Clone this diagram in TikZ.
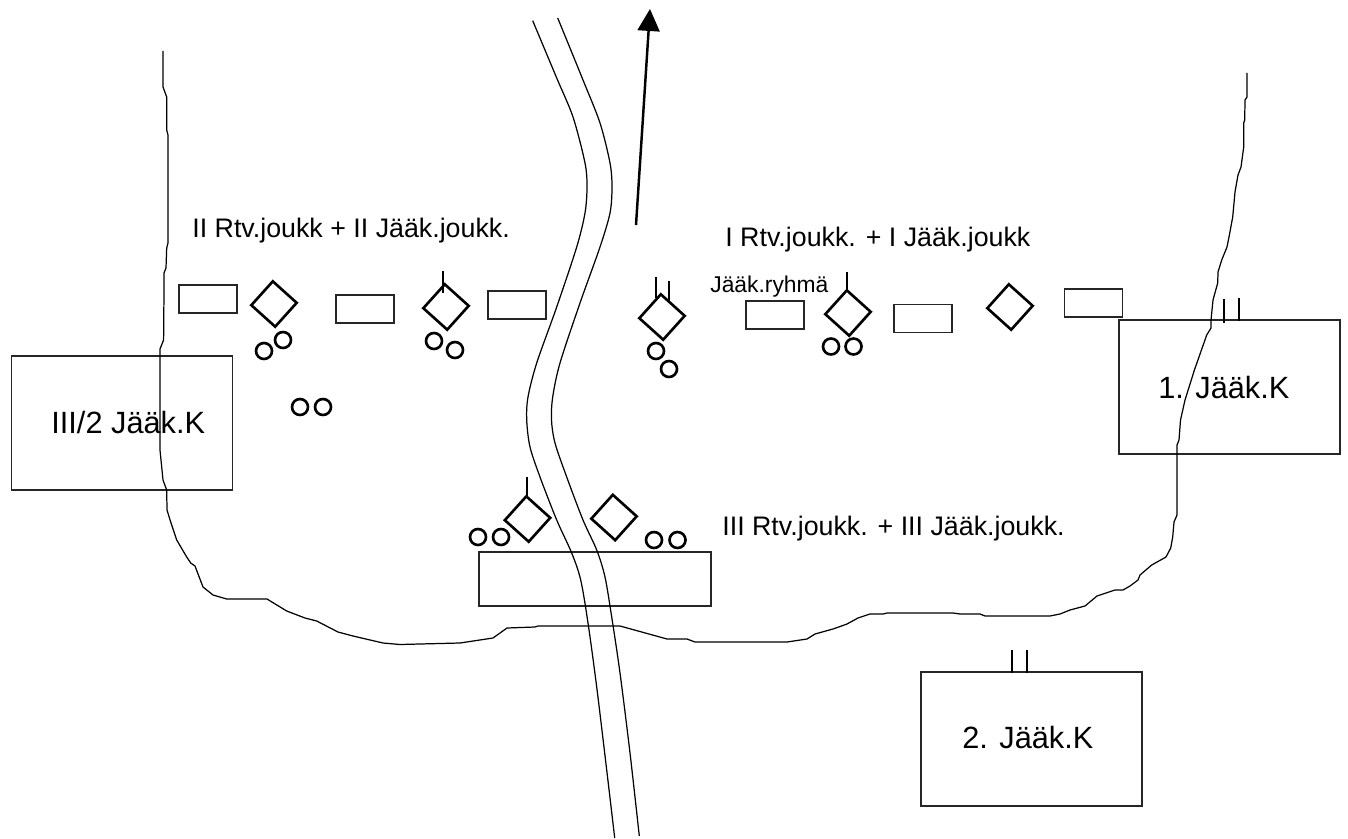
\documentclass[tikz,border=0pt]{standalone}
\usepackage{fontspec}
\setmainfont{Liberation Sans}
\usetikzlibrary{shapes.geometric,arrows.meta}

\begin{document}
\begin{tikzpicture}[x=0.02cm, y=-0.02cm]
    % Define styles for the map symbols
    \tikzset{
        post box/.style={draw=black!85, line width=0.7pt, inner sep=0pt, minimum width=1.16cm, minimum height=0.56cm},
        company box/.style={draw=black!85, line width=0.7pt, inner sep=0pt, minimum width=4.42cm, minimum height=2.68cm},
        gun/.style={draw, diamond, aspect=1, line width=1.5pt, inner sep=0pt, minimum size=0.93cm, rotate=3},
        man/.style={draw, circle, line width=1.5pt, inner sep=0pt, minimum size=0.32cm},
        bank/.style={line width=0.7pt},
        tick/.style={line width=0.7pt},
        big label/.style={anchor=base west, inner sep=0pt, font=\fontsize{17.5}{20}\selectfont},
        unit label/.style={anchor=base west, inner sep=0pt, font=\fontsize{15.25}{18}\selectfont},
        small label/.style={anchor=base west, inner sep=0pt, font=\fontsize{13}{16}\selectfont}
    }

    \useasboundingbox (0,0) rectangle (1348,838);

    % Draw the company boxes
    \node[company box] (thirdcompany) at (122,423) {};
    \node[company box] (firstcompany) at (1229.5,387) {};
    \node[company box] (secondcompany) at (1031.5,739) {};
    \node[draw=black!85, line width=0.7pt, inner sep=0pt, minimum width=4.64cm, minimum height=1.08cm] (lowerpost) at (595,579) {};

    % Draw the small posts in the front line
    \foreach \name/\x/\y in {post1/208/299, post2/365/309, post3/517/305, post4/775/315, post5/923/318.5, post6/1093.5/303} {
        \node[post box] (\name) at (\x,\y) {};
    }

    % Draw the guns
    \foreach \name/\x/\y in {gun1/274/304, gun2/446/307, gun3/662/317, gun4/848/313, gun5/1010/307, gun6/527.5/519, gun7/614/517.5} {
        \node[gun] (\name) at (\x,\y) {};
    }

    % Draw the men
    \foreach \name/\x/\y in {man1/264/351, man2/283/340, man3/434/341, man4/455/350, man5/300/407, man6/323/407,
        man7/656/351, man8/669/369, man9/831/346.5, man10/853.5/346.5, man11/478/537, man12/501/537, man13/654/540, man14/677.5/540} {
        \node[man] (\name) at (\x,\y) {};
    }

    % Draw the flag staffs and the ticks on the boxes
    \draw[tick] (443,271) -- (443,293);
    \draw[tick] (656,277) -- (656,298);
    \draw[tick] (669,281) -- (669,303);
    \draw[tick] (847,272) -- (847,291);
    \draw[tick] (527,477) -- (527,497);
    \draw[tick] (1224,299) -- (1224,323);
    \draw[tick] (1239,298) -- (1239,321);
    \draw[tick] (1012,650) -- (1012,673);
    \draw[tick] (1027,650) -- (1027,673);

    % Draw the road
    \draw[bank] plot[smooth] coordinates {(532.7,20.7) (556.7,78) (573,117) (585,163) (587,187) (585,213) (576.7,247) (556.7,307)
        (536.7,363) (528,397) (526.7,420) (530,447) (540,477) (556.7,520) (571.7,553) (580.7,580) (588,623) (596.7,687) (606.7,770) (614.7,838)};
    \draw[bank] plot[smooth] coordinates {(557.7,18) (583,80) (600,123) (610,163) (612,187) (610,213) (600,247) (580,303)
        (560,363) (552.7,397) (551.5,420) (555,443) (566.7,477) (583,520) (596.7,550) (605,577) (611.7,617) (620,673) (630,753) (639.3,836)};

    % Draw the edge of the clearing
    \draw[bank] (163,51) -- (163,87) -- (166.7,97) -- (166.7,130) -- (168,135) -- (168,243) -- (166.7,248) -- (166,268)
        -- (164,273) -- (164,290) -- (163.6,340) -- (160,349) -- (160,450) -- (163,480) -- (166.7,490) -- (167,510)
        -- (170.7,522) -- (176.7,540) -- (186.7,557) -- (190.7,563) -- (195,566) -- (203,587) -- (213,595) -- (226.7,599)
        -- (267,599) -- (286.7,611) -- (305,618) -- (316.7,621) -- (338,632) -- (353,636) -- (383,643) -- (400,644.5)
        -- (460,643) -- (493,638) -- (507,628) -- (535,627) -- (538,626) -- (620,626) -- (667,639) -- (687,639)
        -- (695,642) -- (787,642) -- (807,639) -- (815,634) -- (833,629) -- (847,624) -- (858,618) -- (870,614)
        -- (883,614) -- (887,613) -- (953,613) -- (960,614) -- (980,614) -- (985,616) -- (1050,616) -- (1060,614)
        -- (1070,610) -- (1085,606) -- (1097,596) -- (1115,590) -- (1123,590) -- (1130,586) -- (1138,580) -- (1140,575)
        -- (1151.7,565) -- (1166,557) -- (1170.7,548) -- (1172.7,537) -- (1174,522) -- (1177,515) -- (1177,445) -- (1179,440)
        -- (1180.5,420) -- (1185,400) -- (1194.4,370) -- (1206.7,335) -- (1211,328) -- (1211,320) -- (1213,300) -- (1217.7,283)
        -- (1218,272) -- (1221.7,260) -- (1227,247) -- (1229,237) -- (1232.7,217) -- (1235,192) -- (1238,175) -- (1241,167)
        -- (1243.7,147) -- (1243.7,123) -- (1244.7,120) -- (1245,100) -- (1247,97) -- (1247,73);

    % Draw the direction arrow
    \coordinate (arrowstart) at (636,225);
    \coordinate (arrowend) at (650,9);
    \draw[-{Triangle[width=12.5pt, length=12.5pt]}, line width=1.4pt] (arrowstart) -- (arrowend);

    % Labels for the units
    \node[unit label] (leftunits) at (192,237) {II Rtv.joukk + II Jääk.joukk.};
    \node[unit label] (rightunits) at (725,246) {I Rtv.joukk. + I Jääk.joukk};
    \node[unit label] (lowerunits) at (722,535) {III Rtv.joukk. + III Jääk.joukk.};
    \node[small label] (grouplabel) at (710,292.5) {Jääk.ryhmä};
    \node[big label] (thirdlabel) at (51,433) {III/2 Jääk.K};
    \node[big label] (firstlabel) at (1158,398) {1. Jääk.K};
    \node[big label] (secondlabel) at (962,748) {2. Jääk.K};
\end{tikzpicture}
\end{document}
